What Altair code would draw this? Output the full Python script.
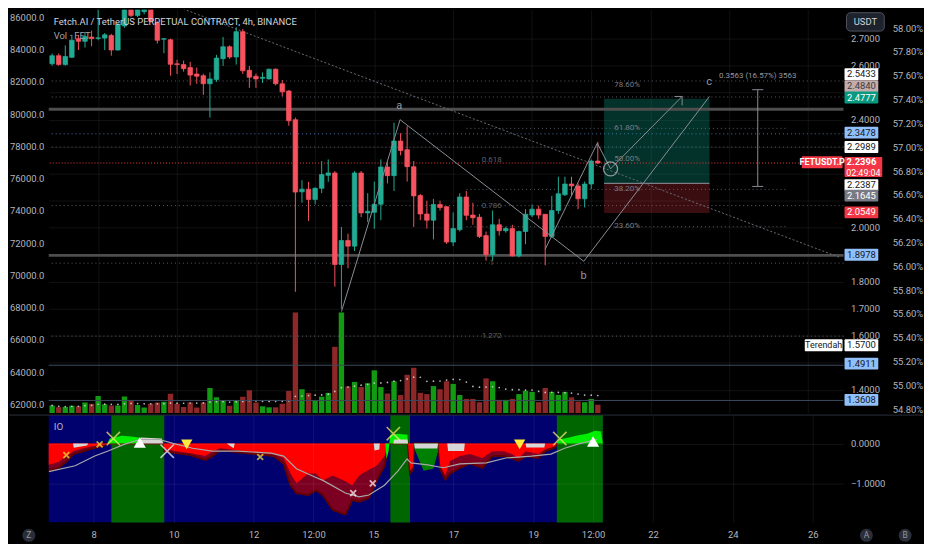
import altair as alt
import pandas as pd

# ---------------- layout / style ----------------
W, H1, H2 = 800, 406, 108
BG = "#000000"
TXT = "#b2b5be"
FONT = "Roboto"
UP, DOWN = "#22ab94", "#f7525f"
VUP, VDOWN = "#139a13", "#8e2727"

# ---------------- axes values ----------------
day_ticks = [8, 10, 12, 13.5, 15, 17, 19, 20.5, 22, 24, 26]
x_domain = [6.873, 26.77]
price_domain = [1.314, 2.807]
price_ticks = [round(1.4 + 0.1 * i, 1) for i in range(14)]
price_shown = [2.7, 2.6, 2.4, 2.0, 1.8, 1.7, 1.6, 1.4]
btc_domain = [61460, 86480]
btc_ticks = list(range(62000, 86001, 2000))
pct_domain = [54.768, 58.154]
pct_ticks = [round(54.8 + 0.2 * i, 1) for i in range(17)]
io_domain = [-1.98, 0.71]

# ---------------- candles (4h, FETUSDT.P) ----------------
first_open = 6 + 20 / 24
bar_step = 4 / 24
opens = [2.607, 2.637, 2.604, 2.631, 2.700, 2.690, 2.706, 2.701, 2.702, 2.712,
         2.658, 2.747, 2.850, 2.786, 2.800, 2.830, 2.759, 2.698, 2.696, 2.607,
         2.604, 2.593, 2.569, 2.563, 2.533, 2.549, 2.626, 2.670, 2.632, 2.726,
         2.583, 2.561, 2.553, 2.551, 2.587, 2.533, 2.506, 2.400, 2.133, 2.143,
         2.105, 2.146, 2.194, 2.203, 1.864, 1.953, 1.932, 2.203, 2.055, 2.057,
         2.087, 2.225, 2.193, 2.321, 2.289, 2.226, 2.119, 2.051, 2.028, 2.086,
         2.078, 1.947, 1.993, 2.114, 2.047, 2.039, 1.971, 1.900, 2.011, 1.989,
         1.997, 1.896, 1.986, 2.047, 2.069, 2.050, 1.968, 2.064, 2.122, 2.162,
         2.155, 2.107, 2.162, 2.247]
highs = [2.645, 2.645, 2.675, 2.714, 2.714, 2.724, 2.730, 2.810, 2.721, 2.718,
         2.760, 2.870, 2.860, 2.850, 2.840, 2.850, 2.765, 2.702, 2.700, 2.622,
         2.619, 2.614, 2.593, 2.570, 2.575, 2.640, 2.706, 2.675, 2.742, 2.736,
         2.599, 2.571, 2.575, 2.589, 2.590, 2.547, 2.510, 2.408, 2.176, 2.170,
         2.150, 2.247, 2.253, 2.210, 2.003, 1.978, 2.210, 2.210, 2.128, 2.171,
         2.253, 2.243, 2.389, 2.350, 2.376, 2.247, 2.125, 2.100, 2.107, 2.100,
         2.080, 2.057, 2.128, 2.136, 2.093, 2.051, 1.986, 2.064, 2.033, 2.004,
         2.011, 1.990, 2.069, 2.086, 2.082, 2.051, 2.118, 2.189, 2.189, 2.189,
         2.164, 2.171, 2.253, 2.318]
lows = [2.600, 2.600, 2.600, 2.628, 2.658, 2.667, 2.672, 2.694, 2.658, 2.637,
        2.655, 2.740, 2.780, 2.780, 2.790, 2.760, 2.682, 2.646, 2.563, 2.569,
        2.578, 2.527, 2.533, 2.492, 2.408, 2.540, 2.599, 2.625, 2.604, 2.569,
        2.518, 2.518, 2.536, 2.549, 2.527, 2.486, 2.378, 1.763, 2.093, 2.025,
        2.087, 2.128, 2.170, 1.782, 1.700, 1.850, 1.914, 2.039, 2.021, 1.996,
        2.028, 2.164, 2.136, 2.268, 2.171, 2.003, 2.028, 1.997, 1.957, 2.064,
        1.940, 1.932, 1.986, 2.028, 2.011, 1.962, 1.878, 1.878, 1.971, 1.982,
        1.894, 1.890, 1.939, 2.039, 2.033, 1.861, 1.962, 2.051, 2.118, 2.118,
        2.069, 2.075, 2.143, 2.236]
closes = [2.637, 2.604, 2.634, 2.694, 2.690, 2.708, 2.700, 2.703, 2.714, 2.658,
          2.753, 2.850, 2.786, 2.830, 2.810, 2.765, 2.694, 2.700, 2.605, 2.604,
          2.589, 2.565, 2.561, 2.533, 2.551, 2.628, 2.670, 2.632, 2.726, 2.581,
          2.557, 2.551, 2.557, 2.587, 2.533, 2.503, 2.396, 2.132, 2.143, 2.105,
          2.146, 2.197, 2.203, 1.864, 1.953, 1.932, 2.203, 2.055, 2.061, 2.087,
          2.225, 2.193, 2.321, 2.286, 2.226, 2.118, 2.051, 2.028, 2.086, 2.075,
          1.947, 1.997, 2.114, 2.046, 2.037, 1.968, 1.900, 2.011, 1.989, 1.997,
          1.896, 1.986, 2.050, 2.069, 2.047, 1.968, 2.064, 2.126, 2.162, 2.155,
          2.107, 2.162, 2.247, 2.2396]
volumes = [8, 6, 6.3, 7.7, 7, 11, 9.7, 17.7, 9.3, 8,
           8, 17.3, 13.7, 8.3, 5.7, 9.7, 11, 11.7, 20, 9.7,
           6.3, 11, 5.7, 11, 26, 16.3, 12.7, 7.7, 13.7, 17,
           23.7, 11, 7, 6, 6, 9.7, 23, 104.3, 24.7, 21,
           13, 17, 21, 68.7, 104.3, 27.7, 32.3, 27, 31, 44.3,
           27, 20.3, 33, 18.7, 39.7, 47, 21, 19.7, 28, 24.7,
           33, 30.3, 18.7, 14.7, 14.7, 11.3, 36, 33, 13.7, 13.7,
           14.7, 19.7, 23, 22, 11.3, 26, 22, 18.7, 22, 16.3,
           12, 11.3, 14.7, 8.7]

# ---------------- drawings on the price pane ----------------
dotted_levels = [2.5433, 2.4840, 2.2989, 2.082, 1.869, 1.599]
blue_levels = [2.3478]
last_price = 2.2396
thick_levels = [2.439, 1.8978]
thin_levels = [1.4911, 1.3608]
fib2_levels = [2.368, 2.142, 2.004]
fib2_start, fib2_end = 17.338, 25.5

zz_t = [14.169, 15.654, 20.311, 23.498, 19.331, 20.654, 20.990, 22.804]
zz_p = [1.690, 2.400, 1.876, 2.486, 1.920, 2.313, 2.218, 2.486]
zz_seg = ["abc"] * 4 + ["proj"] * 4
arrow_t = [22.608, 22.804, 22.804]
arrow_p = [2.486, 2.486, 2.453]
trend_t = [8.833, 26.806]
trend_p = [2.883, 1.890]
circle_t, circle_p = [20.990], [2.218]

pos_start, pos_end = 20.826, 23.498
pos_tp, pos_entry, pos_stop = 2.4777, 2.1645, 2.0549
meas_t = 24.721
meas_top, meas_bottom = 2.511, 2.153
meas_label = "0.3563 (16.57%) 3563"
meas_label_p = 2.563

wave_text = ["a", "b", "c"]
wave_t = [15.63, 20.304, 23.49]
wave_p = [2.450, 1.821, 2.539]
fib1_text = ["0.618", "0.786", "1", "1.272"]
fib1_p = [2.250, 2.082, 1.869, 1.599]
fib1_t = 17.975
fib2_text = ["78.60%", "61.80%", "50.00%", "38.20%", "23.60%"]
fib2_p = [2.527, 2.369, 2.256, 2.143, 2.006]
fib2_t = 21.41

lab_text = ["2.5433", "2.4840", "2.4777", "2.3478", "2.2989", "2.2387", "2.1645",
            "2.0549", "1.8978", "1.5700", "1.4911", "1.3608"]
lab_pos = [2.568, 2.524, 2.482, 2.352, 2.299, 2.158, 2.119, 2.057, 1.900, 1.565, 1.497, 1.363]
lab_bg = ["#ffffff", "#c4acac", "#089981", "#90bff9", "#ffffff", "#ffffff", "#787b86",
          "#f23645", "#90bff9", "#ffffff", "#90bff9", "#90bff9"]
lab_fg = ["#131722", "#3d3d3d", "#ffffff", "#131722", "#131722", "#131722", "#ffffff",
          "#ffffff", "#131722", "#131722", "#131722", "#131722"]

title_text = "Fetch.AI / TetherUS PERPETUAL CONTRACT, 4h, BINANCE"
subtitle_text = "Vol · FET"

# ---------------- IO indicator ----------------
io_red_t = [6.80, 7.118, 7.314, 7.485, 7.730, 7.975, 8.221, 8.343, 9.740, 9.765,
            10.059, 10.426, 10.794, 10.966, 11.162, 11.407, 11.603, 12.020, 12.510, 12.755,
            12.926, 13.074, 13.368, 13.564, 13.735, 13.980, 14.299, 14.471, 14.642, 14.887,
            15.083, 15.279, 15.377, 15.868, 15.917, 15.990, 16.015, 16.627, 16.676, 16.799,
            16.922, 17.167, 17.412, 17.730, 17.975, 18.270, 18.466, 18.637, 18.809, 19.127,
            19.299, 19.544, 19.593]
io_red_v = [-0.561, -0.463, -0.317, -0.195, -0.122, -0.073, -0.049, 0, 0, -0.122,
            -0.195, -0.244, -0.317, -0.195, -0.122, -0.146, -0.171, -0.220, -0.268, -0.366,
            -0.756, -1.0, -0.756, -0.756, -0.927, -0.805, -0.951, -1.049, -0.805, -0.659,
            -0.561, -0.317, 0, 0, -0.683, -0.6, 0, 0, -0.561, -0.805,
            -0.439, -0.317, -0.268, -0.366, -0.195, -0.195, -0.268, -0.366, -0.195, -0.268,
            -0.146, -0.073, 0]
io_dark_v = [-0.707, -0.610, -0.463, -0.268, -0.195, -0.122, -0.073, 0, 0, -0.195,
             -0.244, -0.293, -0.415, -0.317, -0.171, -0.195, -0.220, -0.268, -0.317, -0.512,
             -1.049, -1.244, -1.293, -1.171, -1.293, -1.659, -1.780, -1.415, -1.463, -1.366,
             -0.927, -0.561, 0, 0, -0.75, -0.65, 0, 0, -0.65, -0.9,
             -0.75, -0.61, -0.5, -0.61, -0.317, -0.317, -0.366, -0.439, -0.317, -0.366,
             -0.195, -0.1, 0]
io_white_t = [7.48, 7.50, 7.83, 7.86, 9.15, 9.17, 9.70, 9.74, 11.33, 11.50, 11.53,
              15.01, 15.03, 15.15, 15.16, 15.50, 15.52, 15.85, 15.87,
              16.02, 16.04, 16.60, 16.62, 16.85, 16.87, 17.27, 17.29,
              18.81, 18.83, 19.28, 19.30]
io_white_v = [0, -0.11, -0.05, 0, 0, 0.146, 0.12, 0, 0, -0.12, 0,
              0, -0.18, -0.15, 0, 0, 0.1, 0.1, 0,
              0, -0.13, -0.13, 0, 0, -0.19, -0.19, 0,
              0, -0.1, -0.1, 0]
io_white_seg = [1] * 4 + [2] * 4 + [3] * 3 + [4] * 4 + [5] * 4 + [6] * 4 + [7] * 4 + [8] * 4
io_green_t = [8.34, 8.40, 8.70, 9.00, 9.15, 9.17,
              15.30, 15.33, 15.38, 15.42, 15.60, 15.85, 15.87,
              19.59, 19.65, 19.90, 20.10, 20.35, 20.55, 20.70, 20.745]
io_green_v = [0, 0.12, 0.195, 0.17, 0.14, 0,
              0, -0.39, -0.2, 0.2, 0.24, 0.22, 0,
              0, 0.10, 0.15, 0.20, 0.24, 0.32, 0.30, 0]
io_green_seg = [1] * 6 + [2] * 7 + [3] * 8
io_dgreen_t = [16.015, 16.03, 16.26, 16.50, 16.62, 16.627]
io_dgreen_v = [0, -0.146, -0.683, -0.634, -0.195, 0]
io_sig_t = [6.873, 7.534, 8.025, 8.343, 8.760, 9.152, 9.642, 9.985, 10.475, 10.966,
            11.603, 12.436, 12.755, 13.074, 13.564, 13.735, 14.299, 14.642, 14.887, 15.279,
            15.623, 15.843, 15.941, 16.358, 16.750, 17.167, 17.828, 18.319, 18.956, 19.446,
            19.789, 20.181, 20.598]
io_sig_v = [-0.707, -0.561, -0.317, -0.195, -0.024, 0.098, 0.098, 0, -0.122, -0.195,
            -0.195, -0.244, -0.317, -0.634, -0.854, -0.927, -1.244, -1.341, -1.293, -1.049,
            -0.683, -0.390, -0.488, -0.537, -0.610, -0.512, -0.488, -0.366, -0.317, -0.268,
            -0.122, 0, 0.098]
band_start = [8.441, 15.426, 19.593]
band_end = [9.765, 15.917, 20.745]
io_active_start, io_active_end = 6.6, 20.745
mk_ysx_t, mk_ysx_v = [7.314, 8.147, 12.167], [-0.293, -0.024, -0.341]
mk_ybx_t, mk_ybx_v = [8.490, 15.5, 19.667], [0.122, 0.244, 0.122]
mk_wbx_t, mk_wbx_v = [9.838], [-0.195]
mk_wsx_t, mk_wsx_v = [14.495, 14.985], [-1.244, -1.0]
mk_wtu_t, mk_wtu_v = [9.152, 20.5], [0.024, 0.049]
mk_ytd_t, mk_ytd_v = [10.328, 18.662], [-0.024, -0.024]

# ================= build =================
n = len(opens)
cdf = pd.DataFrame({
    "t": [first_open + k * bar_step for k in range(n)],
    "open": opens, "high": highs, "low": lows, "close": closes, "vol": volumes,
})
up = cdf["close"] >= cdf["open"]
cdf["cc"] = [UP if u else DOWN for u in up]
cdf["vc"] = [VUP if u else VDOWN for u in up]

xs = alt.Scale(domain=x_domain, nice=False, zero=False)
grid_kw = dict(gridColor="#ffffff", gridOpacity=0.07)
ax_x_main = alt.Axis(values=day_ticks, labels=False, ticks=False, domain=False,
                     grid=True, title=None, **grid_kw)


def XM(f="t"):
    return alt.X(f"{f}:Q", scale=xs, axis=ax_x_main)


ps = alt.Scale(domain=price_domain, nice=False, zero=False)
shown_js = ",".join(str(v) for v in price_shown)
ax_price = alt.Axis(orient="right", values=price_ticks,
                    labelExpr=f"indexof([{shown_js}], datum.value) >= 0 ? format(datum.value, '.4f') : ''",
                    ticks=False, domain=False, grid=True, labelColor=TXT, labelFontSize=9.5,
                    labelPadding=7, title=None, **grid_kw)


def PY(f):
    return alt.Y(f"{f}:Q", scale=ps, axis=ax_price)


def C(f):
    return alt.Color(f"{f}:N", scale=None, legend=None)


# --- volume ---
vol_scale = alt.Scale(domain=[0, 418], nice=False, zero=True)
vol_bars = alt.Chart(cdf).mark_bar(size=5.4, clip=True).encode(
    x=XM("t"), y=alt.Y("vol:Q", scale=vol_scale, axis=None), color=C("vc"))
vol_ma = alt.Chart(cdf).transform_window(
    ma="mean(vol)", frame=[-19, 0], sort=[alt.SortField("t")]
).mark_point(filled=True, size=3, color="#d0d0d0", opacity=0.9, clip=True).encode(
    x=XM("t"), y=alt.Y("ma:Q", scale=vol_scale, axis=None))
vol_group = alt.layer(vol_bars, vol_ma)

# --- horizontal levels ---
l_dot = alt.Chart(pd.DataFrame({"p": dotted_levels})).mark_rule(
    color="#5a5d66", strokeDash=[1, 3], strokeWidth=1).encode(y=PY("p"))
l_blue = alt.Chart(pd.DataFrame({"p": blue_levels})).mark_rule(
    color="#4a72b0", strokeDash=[1, 3], strokeWidth=1).encode(y=PY("p"))
l_red = alt.Chart(pd.DataFrame({"p": [last_price]})).mark_rule(
    color="#f23645", strokeDash=[1, 2], strokeWidth=1).encode(y=PY("p"))
l_thick = alt.Chart(pd.DataFrame({"p": thick_levels})).mark_rule(
    color="#4e4e4e", strokeWidth=3).encode(y=PY("p"))
l_thin = alt.Chart(pd.DataFrame({"p": thin_levels})).mark_rule(
    color="#3c4a5e", strokeWidth=1).encode(y=PY("p"))
l_fib2 = alt.Chart(pd.DataFrame({"p": fib2_levels, "t0": fib2_start, "t1": fib2_end})).mark_rule(
    color="#5a5d66", strokeDash=[1, 3], strokeWidth=1).encode(x=XM("t0"), x2="t1:Q", y=PY("p"))

# --- position box ---
pos_df = pd.DataFrame({"t0": [pos_start], "t1": [pos_end], "tp": [pos_tp],
                       "entry": [pos_entry], "stop": [pos_stop]})
box_g = alt.Chart(pos_df).mark_rect(color="#089981", opacity=0.33).encode(
    x=XM("t0"), x2="t1:Q", y=PY("entry"), y2="tp:Q")
box_r = alt.Chart(pos_df).mark_rect(color="#f23645", opacity=0.24).encode(
    x=XM("t0"), x2="t1:Q", y=PY("stop"), y2="entry:Q")
box_line = alt.Chart(pos_df).mark_rule(color="#9598a1", strokeWidth=1).encode(
    x=XM("t0"), x2="t1:Q", y=PY("entry"))

# --- trend line ---
trend = alt.Chart(pd.DataFrame({"t": trend_t, "p": trend_p})).mark_line(
    color="#6a6d76", strokeDash=[2, 2], strokeWidth=1, clip=True).encode(x=XM("t"), y=PY("p"))

# --- candles ---
wicks = alt.Chart(cdf).mark_rule(strokeWidth=1, clip=True).encode(
    x=XM("t"), y=PY("low"), y2="high:Q", color=C("cc"))
bodies = alt.Chart(cdf).mark_bar(size=4.6, strokeWidth=0.7, clip=True).encode(
    x=XM("t"), y=PY("open"), y2="close:Q", color=C("cc"), stroke=C("cc"))

# --- zigzag / projections ---
zz_df = pd.DataFrame({"t": zz_t, "p": zz_p, "seg": zz_seg, "o": list(range(len(zz_t)))})
zz = alt.Chart(zz_df).mark_line(color="#8a8d96", strokeWidth=1, clip=True).encode(
    x=XM("t"), y=PY("p"), detail="seg:N", order="o:Q")
arrow = alt.Chart(pd.DataFrame({"t": arrow_t, "p": arrow_p, "o": [0, 1, 2]})).mark_line(
    color="#8a8d96", strokeWidth=1).encode(x=XM("t"), y=PY("p"), order="o:Q")
circ = alt.Chart(pd.DataFrame({"t": circle_t, "p": circle_p})).mark_point(
    shape="circle", size=200, filled=False, color="#c8c8c8", strokeWidth=1.3).encode(
    x=XM("t"), y=PY("p"))

# --- measurement ---
meas_df = pd.DataFrame({"t": [meas_t], "top": [meas_top], "bot": [meas_bottom],
                        "t0": [meas_t - 0.14], "t1": [meas_t + 0.14]})
meas_v = alt.Chart(meas_df).mark_rule(color="#8a8d96", strokeWidth=1).encode(
    x=XM("t"), y=PY("bot"), y2="top:Q")
meas_c1 = alt.Chart(meas_df).mark_rule(color="#8a8d96", strokeWidth=1).encode(
    x=XM("t0"), x2="t1:Q", y=PY("top"))
meas_c2 = alt.Chart(meas_df).mark_rule(color="#8a8d96", strokeWidth=1).encode(
    x=XM("t0"), x2="t1:Q", y=PY("bot"))
meas_txt = alt.Chart(pd.DataFrame({"t": [meas_t], "p": [meas_label_p], "s": [meas_label]})).mark_text(
    fontSize=8, color="#9598a1").encode(x=XM("t"), y=PY("p"), text="s:N")

# --- texts on pane ---
waves = alt.Chart(pd.DataFrame({"t": wave_t, "p": wave_p, "s": wave_text})).mark_text(
    fontSize=11, color="#9598a1").encode(x=XM("t"), y=PY("p"), text="s:N")
fib1 = alt.Chart(pd.DataFrame({"t": fib1_t, "p": fib1_p, "s": fib1_text})).mark_text(
    fontSize=8, color="#5d606b").encode(x=XM("t"), y=PY("p"), text="s:N")
fib2 = alt.Chart(pd.DataFrame({"t": fib2_t, "p": fib2_p, "s": fib2_text})).mark_text(
    fontSize=8, color="#787b86").encode(x=XM("t"), y=PY("p"), text="s:N")

# --- right scale labels ---
half_box = 0.022
labdf = pd.DataFrame({"label": lab_text, "pos": lab_pos, "bg": lab_bg, "fg": lab_fg})
lab_rect = alt.Chart(labdf).transform_calculate(
    lo=f"datum.pos - {half_box}", hi=f"datum.pos + {half_box}"
).mark_rect(cornerRadius=1).encode(
    x=alt.value(W + 1), x2=alt.value(W + 35), y=PY("lo"), y2="hi:Q", color=C("bg"))
lab_txt = alt.Chart(labdf).mark_text(fontSize=9.5, align="center", baseline="middle").encode(
    x=alt.value(W + 18), y=PY("pos"), text="label:N", color=C("fg"))

cur_df = pd.DataFrame({"lo": [2.188], "hi": [2.262], "p1": [2.244], "p2": [2.202],
                       "s1": [f"{last_price:.4f}"], "s2": ["02:49:04"],
                       "flo": [2.2205], "fhi": [2.2645], "fp": [2.2425], "fs": ["FETUSDT.P"]})
cur_rect = alt.Chart(cur_df).mark_rect(color="#f23645", cornerRadius=1).encode(
    x=alt.value(W + 1), x2=alt.value(W + 39), y=PY("lo"), y2="hi:Q")
cur_t1 = alt.Chart(cur_df).mark_text(fontSize=9.5, color="#ffffff", fontWeight="bold").encode(
    x=alt.value(W + 18), y=PY("p1"), text="s1:N")
cur_t2 = alt.Chart(cur_df).mark_text(fontSize=9, color="#ffffff").encode(
    x=alt.value(W + 20), y=PY("p2"), text="s2:N")
sym_rect = alt.Chart(cur_df).mark_rect(color="#f23645", cornerRadius=1).encode(
    x=alt.value(W - 42), x2=alt.value(W - 1), y=PY("flo"), y2="fhi:Q")
sym_txt = alt.Chart(cur_df).mark_text(fontSize=9, color="#ffffff", fontWeight="bold").encode(
    x=alt.value(W - 21.5), y=PY("fp"), text="fs:N")

low_df = pd.DataFrame({"p": [1.565], "lo": [1.543], "hi": [1.587], "s": ["Terendah"]})
low_rect = alt.Chart(low_df).mark_rect(color="#ffffff", cornerRadius=1).encode(
    x=alt.value(W - 39), x2=alt.value(W - 1), y=PY("lo"), y2="hi:Q")
low_txt = alt.Chart(low_df).mark_text(fontSize=9, color="#131722").encode(
    x=alt.value(W - 20), y=PY("p"), text="s:N")

usdt_df = pd.DataFrame({"lo": [2.728], "hi": [2.796], "p": [2.762], "s": ["USDT"]})
usdt_rect = alt.Chart(usdt_df).mark_rect(color="#1e222d", stroke="#50535e", strokeWidth=1,
                                         cornerRadius=4).encode(
    x=alt.value(W + 3), x2=alt.value(W + 41), y=PY("lo"), y2="hi:Q")
usdt_txt = alt.Chart(usdt_df).mark_text(fontSize=9.5, color="#d1d4dc").encode(
    x=alt.value(W + 22), y=PY("p"), text="s:N")

# --- titles ---
title1 = alt.Chart(pd.DataFrame({"s": [title_text]})).mark_text(
    align="left", baseline="middle", fontSize=9.5, color="#d1d4dc").encode(
    x=alt.value(5), y=alt.value(12), text="s:N")
title2 = alt.Chart(pd.DataFrame({"s": [subtitle_text]})).mark_text(
    align="left", baseline="middle", fontSize=9.5, color="#a0a3ab").encode(
    x=alt.value(5), y=alt.value(26), text="s:N")

price_group = alt.layer(
    l_dot, l_blue, l_thin, l_fib2, box_g, box_r, box_line, l_thick, trend,
    wicks, bodies, l_red, zz, arrow, circ, meas_v, meas_c1, meas_c2, meas_txt,
    waves, fib1, fib2, lab_rect, lab_txt, cur_rect, cur_t1, cur_t2, sym_rect, sym_txt,
    low_rect, low_txt, usdt_rect, usdt_txt, title1, title2)

dummy = pd.DataFrame({"t": [10.0], "btc": [70000.0], "pct": [56.0]})
btc_layer = alt.Chart(dummy).mark_point(opacity=0).encode(
    x=XM("t"),
    y=alt.Y("btc:Q", scale=alt.Scale(domain=btc_domain, nice=False, zero=False),
            axis=alt.Axis(orient="left", values=btc_ticks, format=".1f", ticks=False,
                          domain=False, grid=False, labelColor=TXT, labelFontSize=9.5,
                          labelPadding=5, title=None)))
pct_layer = alt.Chart(dummy).mark_point(opacity=0).encode(
    x=XM("t"),
    y=alt.Y("pct:Q", scale=alt.Scale(domain=pct_domain, nice=False, zero=False),
            axis=alt.Axis(orient="right", offset=46, values=pct_ticks,
                          labelExpr="format(datum.value, '.2f') + '%'", ticks=False,
                          domain=False, grid=False, labelColor=TXT, labelFontSize=9.5,
                          labelPadding=3, title=None)))

main = alt.layer(vol_group, price_group, btc_layer, pct_layer).resolve_scale(
    y="independent").properties(width=W, height=H1)

# ================= lower IO pane =================
yi = alt.Scale(domain=io_domain, nice=False, zero=False)
ax_io = alt.Axis(orient="right", values=[0, -1], format=".4f", ticks=False, domain=False,
                 grid=True, labelColor=TXT, labelFontSize=9.5, labelPadding=7, title=None,
                 zindex=1, gridColor="#ffffff", gridOpacity=0.08)
ax_x_io = alt.Axis(values=day_ticks,
                   labelExpr="datum.value == 13.5 || datum.value == 20.5 ? '12:00' : format(datum.value, 'd')",
                   ticks=False, domain=False, grid=True, labelColor=TXT, labelFontSize=9.5,
                   labelPadding=7, title=None, zindex=1, gridColor="#ffffff", gridOpacity=0.07)


def XI(f="t"):
    return alt.X(f"{f}:Q", scale=xs, axis=ax_x_io)


def YI(f="v"):
    return alt.Y(f"{f}:Q", scale=yi, axis=ax_io)


navy = alt.Chart(pd.DataFrame({"t0": [io_active_start], "t1": [io_active_end]})).mark_rect(
    color="#00006f", clip=True).encode(x=XI("t0"), x2="t1:Q", y=alt.value(0), y2=alt.value(H2))
bands = alt.Chart(pd.DataFrame({"t0": band_start, "t1": band_end})).mark_rect(
    color="#006600").encode(x=XI("t0"), x2="t1:Q", y=alt.value(0), y2=alt.value(H2))
red_df = pd.DataFrame({"t": io_red_t, "red": io_red_v, "dark": io_dark_v})
a_dark = alt.Chart(red_df).mark_area(color="#b00000", clip=True,
                                     line={"color": "#650000", "strokeWidth": 2}).encode(
    x=XI("t"), y=YI("dark"), y2=alt.datum(0))
a_red = alt.Chart(red_df).mark_area(color="#ff0000", clip=True).encode(
    x=XI("t"), y=YI("red"), y2=alt.datum(0))
a_dg = alt.Chart(pd.DataFrame({"t": io_dgreen_t, "v": io_dgreen_v})).mark_area(
    color="#008000").encode(x=XI("t"), y=YI("v"), y2=alt.datum(0))
a_g = alt.Chart(pd.DataFrame({"t": io_green_t, "v": io_green_v, "seg": io_green_seg})).mark_area(
    color="#00ee00").encode(x=XI("t"), y=YI("v"), y2=alt.datum(0), detail="seg:N")
a_w = alt.Chart(pd.DataFrame({"t": io_white_t, "v": io_white_v, "seg": io_white_seg})).mark_area(
    color="#d6d6d6").encode(x=XI("t"), y=YI("v"), y2=alt.datum(0), detail="seg:N")
sig = alt.Chart(pd.DataFrame({"t": io_sig_t, "v": io_sig_v})).mark_line(
    color="#a8a8a8", strokeWidth=1.2, clip=True).encode(x=XI("t"), y=YI("v"))

XPATH = "M-1,-1L1,1M-1,1L1,-1"


def markers(ts, vs, **kw):
    return alt.Chart(pd.DataFrame({"t": ts, "v": vs})).mark_point(**kw).encode(
        x=XI("t"), y=YI("v"))


m1 = markers(mk_ysx_t, mk_ysx_v, shape=XPATH, size=36, filled=False, color="#ffeb3b", strokeWidth=1.8)
m2 = markers(mk_ybx_t, mk_ybx_v, shape=XPATH, size=180, filled=False, color="#fff176", strokeWidth=1.6)
m3 = markers(mk_wbx_t, mk_wbx_v, shape=XPATH, size=180, filled=False, color="#ffffff", strokeWidth=1.6)
m4 = markers(mk_wsx_t, mk_wsx_v, shape=XPATH, size=36, filled=False, color="#ffffff", strokeWidth=1.8)
m5 = markers(mk_wtu_t, mk_wtu_v, shape="triangle-up", size=150, filled=True, color="#ffffff", opacity=1)
m6 = markers(mk_ytd_t, mk_ytd_v, shape="triangle-down", size=130, filled=True, color="#ffeb3b", opacity=1)

io_lbl = alt.Chart(pd.DataFrame({"s": ["IO"]})).mark_text(
    align="left", baseline="middle", fontSize=10, color=TXT).encode(
    x=alt.value(5), y=alt.value(12), text="s:N")
sep = alt.Chart(pd.DataFrame({"s": [0]})).mark_rule(color="#2a2e39", strokeWidth=1).encode(
    x=alt.value(-40), x2=alt.value(W + 80), y=alt.value(0))

btn_layers = []
for lbl, xp in [("Z", -20), ("A", W + 23), ("B", W + 62)]:
    bdf = pd.DataFrame({"s": [lbl]})
    btn_layers.append(alt.Chart(bdf).mark_circle(size=170, color="#2a2e39", opacity=1).encode(
        x=alt.value(xp), y=alt.value(H2 + 13)))
    btn_layers.append(alt.Chart(bdf).mark_text(fontSize=8.5, color="#9598a1").encode(
        x=alt.value(xp), y=alt.value(H2 + 13), text="s:N"))

lower = alt.layer(navy, bands, a_dark, a_red, a_dg, a_g, a_w, sig, m1, m2, m3, m4, m5, m6,
                  io_lbl, sep, *btn_layers).properties(width=W, height=H2)

chart = alt.vconcat(main, lower, spacing=0).properties(
    background=BG, padding=0
).configure_view(stroke=None).configure_axis(labelFont=FONT).configure_text(font=FONT)

chart.save("out.html", embed_options={"renderer": "svg", "actions": False})
